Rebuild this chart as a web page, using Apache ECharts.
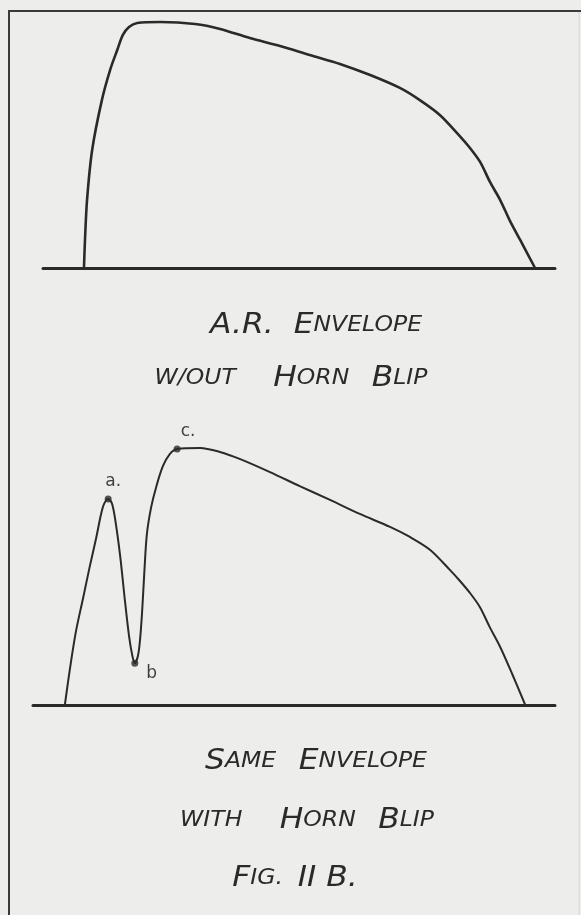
<!DOCTYPE html>
<html>
<head>
<meta charset="utf-8">
<title>Fig. II B</title>
<script src="https://cdn.jsdelivr.net/npm/echarts@6/dist/echarts.min.js"></script>
<style>
  html, body { margin: 0; padding: 0; background: #ededeb; }
  #chart { width: 581px; height: 915px; }
</style>
</head>
<body>
<div id="chart"></div>
<script>
// envelope without the blip (time %, amplitude %)
var topTime = [8.0, 8.2, 8.6, 9.6, 11.5, 13.1, 14.5, 15.6, 16.8, 18.4, 22.9, 29.7, 34.6, 40.4, 46.3, 52.1, 58.0, 63.9, 69.7, 73.6, 77.5, 81.4, 83.4, 85.4, 87.3, 89.3, 91.2, 93.2, 96.1];
var topAmp  = [0, 11.3, 27.4, 47.6, 67.7, 79.8, 87.9, 94.0, 97.2, 98.8, 99.2, 98.4, 96.4, 92.7, 89.5, 85.9, 82.3, 77.8, 72.6, 67.7, 61.7, 53.2, 48.4, 42.7, 34.7, 27.4, 19.0, 11.3, 0];

// same envelope with the horn blip
var botTime = [6.1, 7.1, 8.2, 9.6, 10.9, 12.1, 13.0, 13.6, 14.4, 15.1, 15.7, 16.7, 17.6, 18.4, 19.0, 19.5, 20.1, 20.5, 20.9, 21.3, 21.8, 22.6, 23.6, 24.9, 26.2, 27.6, 32.0, 35.8, 39.7, 45.4, 51.1, 56.9, 62.6, 68.4, 72.2, 76.1, 79.9, 81.8, 83.7, 85.6, 87.5, 89.5, 91.8, 94.3];
var botAmp  = [0, 14.0, 27.5, 40.4, 52.5, 63.0, 71.7, 75.8, 77.7, 76.2, 70.6, 56.2, 39.6, 26.0, 18.9, 15.8, 18.5, 24.5, 35.1, 49.1, 64.2, 74.3, 82.3, 90.2, 94.7, 96.6, 97.0, 95.5, 92.8, 87.9, 82.6, 77.4, 72.1, 67.2, 63.4, 58.5, 50.9, 46.8, 42.3, 37.0, 29.4, 21.9, 11.7, 0];

// marked points a, b, c (indices into the blip curve)
var markNames = ['a.', 'b', 'c.'];
var markIdx = [8, 15, 25];

var ink = '#2a2a2a';
var handFont = '"DejaVu Sans", sans-serif';

function zip(xs, ys) {
    var out = [];
    for (var i = 0; i < xs.length; i++) out.push([xs[i], ys[i]]);
    return out;
}

var markLabelPos = {
    'a.': { position: 'top', offset: [5, -1] },
    'b': { position: 'right', offset: [3, 10] },
    'c.': { position: 'top', offset: [11, 0] }
};
var markData = markIdx.map(function (k, i) {
    var p = markLabelPos[markNames[i]];
    return {
        name: markNames[i],
        value: [botTime[k], botAmp[k]],
        label: { position: p.position, offset: p.offset }
    };
});

var rich = {
    B: { fontSize: 28, fontFamily: handFont, fontStyle: 'italic', fontWeight: 'normal', fill: ink },
    s: { fontSize: 21, fontFamily: handFont, fontStyle: 'italic', fontWeight: 'normal', fill: ink }
};
// hand lettering is wide, so stretch each caption a little
function caption(text, cx, cy) {
    return {
        type: 'text',
        x: cx,
        y: cy,
        scaleX: 1.12,
        style: {
            text: text,
            rich: rich,
            align: 'center',
            verticalAlign: 'middle',
            fill: ink
        }
    };
}

var chart = echarts.init(document.getElementById('chart'));
var option = {
    backgroundColor: '#ededeb',
    animation: false,
    graphic: [
        { type: 'line', shape: { x1: 9, y1: 10, x2: 9, y2: 915 }, style: { stroke: '#3a3a3a', lineWidth: 2 } },
        { type: 'line', shape: { x1: 8, y1: 11, x2: 581, y2: 11 }, style: { stroke: '#3a3a3a', lineWidth: 2 } },
        { type: 'line', shape: { x1: 579, y1: 12, x2: 579, y2: 915 }, style: { stroke: '#d6d6d4', lineWidth: 1 } },
        caption('{B|A.R.  E}{s|NVELOPE}', 316, 326),
        caption('{s|W/OUT     }{B|H}{s|ORN   }{B|B}{s|LIP}', 291, 379),
        caption('{B|S}{s|AME   }{B|E}{s|NVELOPE}', 316, 762),
        caption('{s|WITH     }{B|H}{s|ORN   }{B|B}{s|LIP}', 307, 821),
        caption('{B|F}{s|IG.  }{B|II B.}', 295, 879)
    ],
    grid: [
        { left: 43, right: 26, top: 20, height: 248 },
        { left: 33, right: 26, top: 440, height: 265 }
    ],
    xAxis: [0, 1].map(function (g) {
        return {
            type: 'value', gridIndex: g, min: 0, max: 100,
            axisLine: { show: true, lineStyle: { color: ink, width: 3 } },
            axisTick: { show: false }, axisLabel: { show: false }, splitLine: { show: false }
        };
    }),
    yAxis: [0, 1].map(function (g) {
        return {
            type: 'value', gridIndex: g, min: 0, max: 100,
            axisLine: { show: false }, axisTick: { show: false },
            axisLabel: { show: false }, splitLine: { show: false }
        };
    }),
    series: [{
        name: 'without blip',
        type: 'line',
        xAxisIndex: 0, yAxisIndex: 0,
        data: zip(topTime, topAmp),
        smooth: 0.3,
        showSymbol: false,
        lineStyle: { color: ink, width: 2.6 }
    }, {
        name: 'with blip',
        type: 'line',
        xAxisIndex: 1, yAxisIndex: 1,
        data: zip(botTime, botAmp),
        smooth: 0.3,
        showSymbol: false,
        lineStyle: { color: ink, width: 2 }
    }, {
        name: 'points',
        type: 'scatter',
        xAxisIndex: 1, yAxisIndex: 1,
        data: markData,
        symbolSize: 7,
        itemStyle: { color: ink },
        label: {
            show: true,
            formatter: '{b}',
            fontSize: 17,
            fontFamily: handFont,
            color: '#111'
        }
    }]
};
chart.setOption(option);
</script>
</body>
</html>
